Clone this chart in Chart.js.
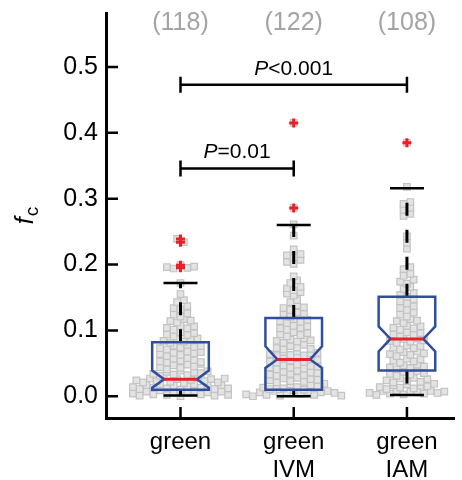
<!DOCTYPE html>
<html>
<head>
<meta charset="utf-8">
<script src="https://cdn.jsdelivr.net/npm/chart.js"></script>
<style>
  html, body { margin: 0; padding: 0; background: #fff; }
</style>
</head>
<body>
<canvas id="fcChart" width="462" height="480"></canvas>
<script>
// categories along the x axis
const categories = [['green'], ['green', 'IVM'], ['green', 'IAM']];
const groupPos = [1, 2, 3];

// f_c of each cell, listed row by row (0.01 bins) as they sit in the swarm
const greenVals = [
  0.004, 0.001, 0.007, 0.003, 0.009, 0.002, 0.006, 0.000, 0.005, 0.008, 0.003, 0.006, 0.001, 0.007, 0.002,
  0.014, 0.011, 0.017, 0.013, 0.019, 0.012, 0.016, 0.010, 0.015, 0.018, 0.013, 0.016, 0.011, 0.017, 0.012,
  0.024, 0.021, 0.027, 0.023, 0.029, 0.022, 0.026, 0.020, 0.025, 0.028, 0.023, 0.026, 0.021, 0.027,
  0.034, 0.031, 0.037, 0.033, 0.039, 0.032, 0.036, 0.035, 0.038,
  0.044, 0.041, 0.047, 0.043, 0.048, 0.045, 0.049,
  0.053, 0.051, 0.057, 0.054, 0.058, 0.055, 0.052,
  0.064, 0.061, 0.066, 0.063, 0.068, 0.065, 0.067,
  0.073, 0.071, 0.077, 0.074, 0.078, 0.075, 0.076,
  0.084, 0.081, 0.087, 0.083, 0.086, 0.088,
  0.094, 0.091, 0.097, 0.093, 0.096,
  0.104, 0.101, 0.107, 0.103, 0.106,
  0.114, 0.112, 0.117, 0.115,
  0.124, 0.121, 0.126,
  0.134, 0.132, 0.137,
  0.143, 0.146,
  0.155,
  0.172,
  0.196, 0.194, 0.199, 0.195, 0.197,
  0.239, 0.234
];
const ivmVals = [
  0.003, 0.000, 0.006, 0.002, 0.008, 0.001, 0.005, 0.009, 0.004, 0.007, 0.002, 0.006, 0.008, 0.005, 0.001,
  0.013, 0.011, 0.016, 0.012, 0.018, 0.014, 0.010, 0.017, 0.015, 0.019,
  0.024, 0.021, 0.027, 0.023, 0.028, 0.022, 0.026, 0.025,
  0.033, 0.031, 0.037, 0.034, 0.039, 0.032, 0.036, 0.035,
  0.044, 0.041, 0.047, 0.043, 0.048, 0.042, 0.046, 0.045,
  0.053, 0.051, 0.057, 0.054, 0.059, 0.052, 0.056, 0.055,
  0.064, 0.061, 0.067, 0.063, 0.068, 0.062, 0.065, 0.066,
  0.073, 0.071, 0.076, 0.074, 0.078, 0.072,
  0.084, 0.081, 0.086, 0.083, 0.088, 0.085,
  0.094, 0.091, 0.097, 0.093, 0.096,
  0.103, 0.101, 0.107, 0.104, 0.106,
  0.114, 0.111, 0.117, 0.113, 0.116,
  0.124, 0.121, 0.127, 0.125,
  0.134, 0.131, 0.138, 0.135,
  0.143, 0.146,
  0.156, 0.153, 0.158,
  0.164, 0.161, 0.166,
  0.172, 0.176,
  0.182,
  0.204, 0.201, 0.207,
  0.214, 0.211, 0.216,
  0.223,
  0.244,
  0.261,
  0.286,
  0.415
];
const iamVals = [
  0.005, 0.002, 0.008, 0.004, 0.009, 0.003, 0.007, 0.006, 0.004, 0.008, 0.005, 0.007,
  0.014, 0.011, 0.017, 0.013, 0.018, 0.012, 0.016, 0.015, 0.019,
  0.024, 0.021, 0.027, 0.023, 0.028, 0.022, 0.026,
  0.034, 0.031, 0.037, 0.033, 0.038, 0.035,
  0.044, 0.041, 0.047, 0.043, 0.048, 0.045,
  0.054, 0.051, 0.057, 0.053, 0.056,
  0.064, 0.061, 0.067, 0.063, 0.068, 0.065,
  0.074, 0.071, 0.077, 0.073, 0.076,
  0.084, 0.081, 0.087, 0.083, 0.088, 0.085,
  0.094, 0.091, 0.097, 0.093, 0.096,
  0.104, 0.101, 0.107, 0.103, 0.106,
  0.114, 0.111, 0.117, 0.115,
  0.124, 0.121, 0.127,
  0.134, 0.131, 0.137,
  0.144, 0.141, 0.147,
  0.154, 0.151, 0.157,
  0.163, 0.166,
  0.174, 0.171, 0.177,
  0.183, 0.186,
  0.193, 0.196,
  0.224,
  0.233,
  0.243,
  0.274, 0.277,
  0.283, 0.286,
  0.292, 0.295,
  0.318,
  0.385
];
const groupVals = [greenVals, ivmVals, iamVals];

// notched box summaries per group
const q1 = [0.010, 0.010, 0.039];
const medians = [0.026, 0.056, 0.087];
const q3 = [0.082, 0.119, 0.151];
const notchLo = [0.013, 0.043, 0.068];
const notchHi = [0.039, 0.076, 0.106];
const whiskLo = [0.001, 0.000, 0.002];
const whiskHi = [0.172, 0.260, 0.316];
const outliers = [[0.195, 0.199, 0.234, 0.239], [0.286, 0.415], [0.385]];

const yTicks = [0, 0.1, 0.2, 0.3, 0.4, 0.5];

// significance brackets between groups
const comparisons = [
  { from: 1, to: 3, at: 0.473, sign: '<', p: '0.001' },
  { from: 1, to: 2, at: 0.346, sign: '=', p: '0.01' }
];

const FONT = '"Liberation Sans", Arial, Helvetica, sans-serif';
const BOX_BLUE = '#2f4e9e';
const RED = '#ec1f26';
const BOX_W = 0.25, NOTCH_W = 0.145, CAP_W = 0.15;
const SPACING = 6.8; // px between squares in one row

const boxPlugin = {
  id: 'notchedBoxes',
  afterDatasetsDraw(chart) {
    const { ctx, chartArea, scales: { x, y } } = chart;
    ctx.save();

    groupPos.forEach((g, i) => {
      const cx = x.getPixelForValue(g);
      const l = x.getPixelForValue(g - BOX_W), r = x.getPixelForValue(g + BOX_W);
      const nl = x.getPixelForValue(g - NOTCH_W), nr = x.getPixelForValue(g + NOTCH_W);

      // dashed whiskers
      ctx.strokeStyle = '#000';
      ctx.lineWidth = 3;
      ctx.setLineDash([13, 14]);
      ctx.beginPath();
      ctx.moveTo(cx, y.getPixelForValue(q3[i]));
      ctx.lineTo(cx, y.getPixelForValue(whiskHi[i]));
      ctx.stroke();
      ctx.beginPath();
      ctx.moveTo(cx, y.getPixelForValue(q1[i]));
      ctx.lineTo(cx, y.getPixelForValue(whiskLo[i]));
      ctx.stroke();
      ctx.setLineDash([]);

      // whisker caps
      ctx.lineWidth = 2.5;
      ctx.beginPath();
      [whiskHi[i], whiskLo[i]].forEach(v => {
        const py = y.getPixelForValue(v);
        ctx.moveTo(x.getPixelForValue(g - CAP_W), py);
        ctx.lineTo(x.getPixelForValue(g + CAP_W), py);
      });
      ctx.stroke();

      // notched box
      const yq1 = y.getPixelForValue(q1[i]), yq3 = y.getPixelForValue(q3[i]);
      const ym = y.getPixelForValue(medians[i]);
      const ylo = y.getPixelForValue(notchLo[i]), yhi = y.getPixelForValue(notchHi[i]);
      ctx.strokeStyle = BOX_BLUE;
      ctx.lineWidth = 2.5;
      ctx.lineJoin = 'miter';
      ctx.beginPath();
      ctx.moveTo(l, yq3);
      ctx.lineTo(r, yq3);
      ctx.lineTo(r, yhi);
      ctx.lineTo(nr, ym);
      ctx.lineTo(r, ylo);
      ctx.lineTo(r, yq1);
      ctx.lineTo(l, yq1);
      ctx.lineTo(l, ylo);
      ctx.lineTo(nl, ym);
      ctx.lineTo(l, yhi);
      ctx.closePath();
      ctx.stroke();

      // median
      ctx.strokeStyle = RED;
      ctx.lineWidth = 3;
      ctx.beginPath();
      ctx.moveTo(nl, ym);
      ctx.lineTo(nr, ym);
      ctx.stroke();

      // group size
      ctx.fillStyle = '#a4a4a4';
      ctx.font = '25px ' + FONT;
      ctx.textAlign = 'center';
      ctx.textBaseline = 'alphabetic';
      ctx.fillText('(' + groupVals[i].length + ')', cx, 30);
    });

    // inward tick marks
    ctx.strokeStyle = '#000';
    ctx.lineWidth = 2.5;
    ctx.beginPath();
    yTicks.forEach(v => {
      const py = y.getPixelForValue(v);
      ctx.moveTo(chartArea.left, py);
      ctx.lineTo(chartArea.left + 12, py);
    });
    groupPos.forEach(g => {
      const px = x.getPixelForValue(g);
      ctx.moveTo(px, chartArea.bottom);
      ctx.lineTo(px, chartArea.bottom - 11);
    });
    ctx.stroke();

    // significance brackets
    comparisons.forEach(c => {
      const x1 = x.getPixelForValue(c.from), x2 = x.getPixelForValue(c.to);
      const py = y.getPixelForValue(c.at);
      ctx.strokeStyle = '#000';
      ctx.lineWidth = 2.5;
      ctx.beginPath();
      ctx.moveTo(x1, py);
      ctx.lineTo(x2, py);
      ctx.moveTo(x1, py - 8);
      ctx.lineTo(x1, py + 8);
      ctx.moveTo(x2, py - 8);
      ctx.lineTo(x2, py + 8);
      ctx.stroke();

      const italic = 'italic 21px ' + FONT, plain = '21px ' + FONT;
      const rest = c.sign + c.p;
      ctx.font = italic;
      const wP = ctx.measureText('P').width;
      ctx.font = plain;
      const wR = ctx.measureText(rest).width;
      const tx = (x1 + x2) / 2 - (wP + wR) / 2;
      ctx.fillStyle = '#000';
      ctx.textAlign = 'left';
      ctx.textBaseline = 'alphabetic';
      ctx.font = italic;
      ctx.fillText('P', tx, py - 10);
      ctx.font = plain;
      ctx.fillText(rest, tx + wP, py - 10);
    });

    // y axis title: f with subscript c
    const midY = (chartArea.top + chartArea.bottom) / 2;
    ctx.translate(33, midY);
    ctx.rotate(-Math.PI / 2);
    ctx.fillStyle = '#000';
    ctx.textAlign = 'left';
    ctx.font = 'italic 25px ' + FONT;
    const wf = ctx.measureText('f').width;
    ctx.font = '19px ' + FONT;
    const wc = ctx.measureText('c').width;
    const sx = -(wf + wc + 1) / 2;
    ctx.font = 'italic 25px ' + FONT;
    ctx.fillText('f', sx, 0);
    ctx.font = '19px ' + FONT;
    ctx.fillText('c', sx + wf + 1, 5);

    ctx.restore();
  }
};

// lay each 0.01 bin out as a centred row of squares
function spread(values, center, unitPerPx) {
  const bins = new Map();
  values.forEach((v, i) => {
    const k = Math.floor(v * 100 + 1e-6);
    if (!bins.has(k)) bins.set(k, []);
    bins.get(k).push(i);
  });
  const pts = [];
  bins.forEach(idx => {
    idx.forEach((i, j) => {
      pts.push({ x: center + (j - (idx.length - 1) / 2) * SPACING * unitPerPx, y: values[i] });
    });
  });
  return pts;
}

const squareStyle = {
  pointStyle: 'rect',
  pointRadius: 4.6,
  pointBackgroundColor: '#e3e3e3',
  pointBorderColor: '#c3c3c3',
  pointBorderWidth: 1.2,
  showLine: false,
  order: 2
};

const chart = new Chart(document.getElementById('fcChart'), {
  type: 'scatter',
  data: {
    datasets: [
      ...groupVals.map((vals, i) => Object.assign({
        label: categories[i].join(' '),
        data: vals.map(v => ({ x: groupPos[i], y: v }))
      }, squareStyle)),
      {
        label: 'outliers',
        data: outliers.flatMap((arr, i) => arr.map(v => ({ x: groupPos[i], y: v }))),
        pointStyle: 'cross',
        pointRadius: 4.5,
        pointBorderColor: RED,
        pointBorderWidth: 3,
        showLine: false,
        order: 1
      }
    ]
  },
  options: {
    responsive: false,
    animation: false,
    layout: { padding: { top: 13, right: 0, bottom: 0, left: 0 } },
    plugins: { legend: { display: false }, tooltip: { enabled: false } },
    scales: {
      x: {
        type: 'linear',
        min: 0.342,
        max: 3.42,
        grid: { display: false, drawTicks: false },
        border: { display: true, color: '#000', width: 3 },
        afterBuildTicks: s => { s.ticks = groupPos.map(v => ({ value: v })); },
        afterFit: s => { s.height = 62; s.paddingLeft = 0; s.paddingRight = 0; },
        ticks: {
          callback: v => categories[groupPos.indexOf(v)],
          color: '#000',
          font: { family: FONT, size: 24, lineHeight: 1.17 },
          padding: 10,
          maxRotation: 0,
          autoSkip: false
        }
      },
      y: {
        min: -0.033,
        max: 0.582,
        grid: { display: false, drawTicks: false },
        border: { display: true, color: '#000', width: 3 },
        afterBuildTicks: s => { s.ticks = yTicks.map(v => ({ value: v })); },
        afterFit: s => { s.width = 106; s.paddingTop = 0; s.paddingBottom = 0; },
        ticks: {
          callback: v => v.toFixed(1),
          color: '#000',
          font: { family: FONT, size: 25 },
          padding: 8
        }
      }
    }
  },
  plugins: [boxPlugin]
});

// spread the squares sideways now that the x scale is known
const xs = chart.scales.x;
const unitPerPx = 1 / (xs.getPixelForValue(2) - xs.getPixelForValue(1));
groupVals.forEach((vals, i) => {
  chart.data.datasets[i].data = spread(vals, groupPos[i], unitPerPx);
});
chart.update('none');
</script>
</body>
</html>
